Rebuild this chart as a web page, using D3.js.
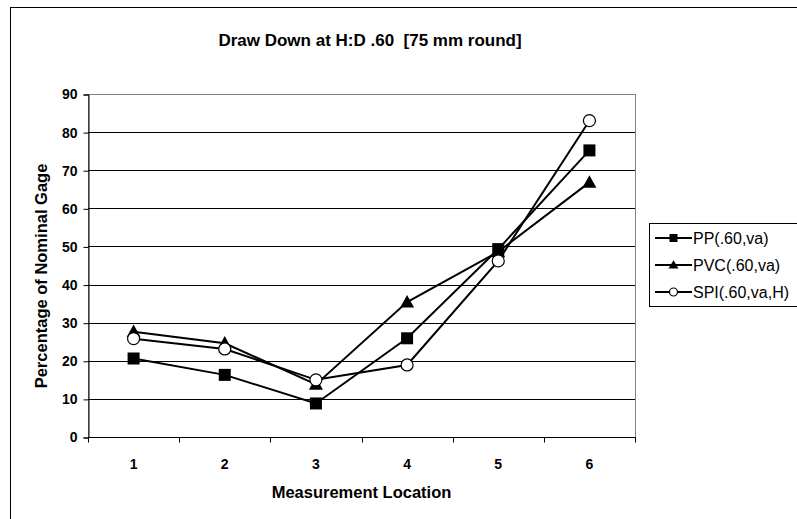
<!DOCTYPE html>
<html><head><meta charset="utf-8">
<script src="https://cdn.jsdelivr.net/npm/d3@7"></script>
<style>body{margin:0;background:#fff}svg{display:block}text{font-family:"Liberation Sans",Arial,sans-serif;white-space:pre}</style>
</head><body>
<svg id="c" width="797" height="519"></svg>
<script>
const categories = ["1","2","3","4","5","6"];
const ppValues  = [20.6, 16.3, 8.8, 25.9, 49.3, 75.2];
const pvcValues = [27.6, 24.6, 13.8, 35.4, 48.6, 66.8];
const spiValues = [25.8, 23.1, 15.0, 18.9, 46.2, 83.0];
const yTicks = [0,10,20,30,40,50,60,70,80,90];
const seriesNames = ["PP(.60,va)", "PVC(.60,va)", "SPI(.60,va,H)"];
const markerTypes = ["square", "triangle", "circle"];

const series = seriesNames.map((n,i)=>({name:n, marker:markerTypes[i], values:[ppValues,pvcValues,spiValues][i]}));

const svg = d3.select("#c");
const L = 88, R = 635, T = 94, B = 437;

svg.append("rect").attr("x",10.5).attr("y",7.5).attr("width",800).attr("height",520)
  .attr("fill","none").attr("stroke","#000").attr("stroke-width",1);

const x = d3.scaleBand().domain(categories).range([L,R]);
const y = d3.scaleLinear().domain([0,90]).range([B,T]);

svg.append("rect").attr("x",L+0.5).attr("y",T+0.5).attr("width",R-L).attr("height",B-T)
  .attr("fill","none").attr("stroke","#808080");

svg.append("g").selectAll("line").data(yTicks.filter(t=>t>0 && t<90)).join("line")
  .attr("x1",L).attr("x2",R).attr("y1",d=>Math.round(y(d))+0.5).attr("y2",d=>Math.round(y(d))+0.5)
  .attr("stroke","#000").attr("stroke-width",1);

const yAxis = d3.axisLeft(y).tickValues(yTicks).tickSize(5).tickPadding(4).tickFormat(d3.format("d"));
const gy = svg.append("g").attr("transform",`translate(${L+0.5},0.5)`).call(yAxis);
gy.attr("font-size",null).attr("font-family",null);
gy.select(".domain").attr("stroke","#000");
gy.selectAll(".tick line").attr("stroke","#000");
gy.selectAll("text").attr("font-size",14).attr("font-weight","bold").attr("fill","#000").attr("dx",-2);

const gx = svg.append("g").attr("transform",`translate(0,${B+0.5})`);
gx.append("line").attr("x1",L).attr("x2",R+1).attr("y1",0).attr("y2",0).attr("stroke","#000");
const bounds = categories.map(c=>x(c)).concat([R]);
gx.selectAll("line.tk").data(bounds).join("line").attr("class","tk")
  .attr("x1",d=>Math.round(d)+0.5).attr("x2",d=>Math.round(d)+0.5).attr("y1",0).attr("y2",5).attr("stroke","#000");
gx.selectAll("text").data(categories).join("text")
  .attr("x",d=>x(d)+x.bandwidth()/2).attr("y",31).attr("text-anchor","middle")
  .attr("font-size",14).attr("font-weight","bold").text(d=>d);

svg.append("text").attr("x",370).attr("y",46).attr("text-anchor","middle")
  .attr("font-size",17).attr("font-weight","bold").text("Draw Down at H:D .60  [75 mm round]");
svg.append("text").attr("x",(L+R)/2).attr("y",498).attr("text-anchor","middle")
  .attr("font-size",16.5).attr("font-weight","bold").text("Measurement Location");
svg.append("text").attr("transform",`translate(47,276) rotate(-90)`).attr("text-anchor","middle")
  .attr("font-size",16.5).attr("font-weight","bold").text("Percentage of Nominal Gage");

function drawMarker(g, type, cx, cy, s){
  if(type==="square"){
    g.append("rect").attr("x",cx-s/2).attr("y",cy-s/2).attr("width",s).attr("height",s).attr("fill","#000");
  } else if(type==="triangle"){
    g.append("path").attr("d",`M${cx},${cy-s*0.6}L${cx+s/2+1},${cy+s*0.45}L${cx-s/2-1},${cy+s*0.45}Z`).attr("fill","#000");
  } else {
    g.append("circle").attr("cx",cx).attr("cy",cy).attr("r",s/2).attr("fill","#fff").attr("stroke","#000").attr("stroke-width",1.2);
  }
}

const line = d3.line().x((d,i)=>x(categories[i])+x.bandwidth()/2).y(d=>y(d));
const plotG = svg.append("g");
series.forEach(s=>{
  plotG.append("path").attr("d",line(s.values)).attr("fill","none").attr("stroke","#000").attr("stroke-width",2);
});
series.forEach(s=>{
  s.values.forEach((v,i)=>drawMarker(plotG, s.marker, x(categories[i])+x.bandwidth()/2, y(v), 12));
});

const lg = svg.append("g");
lg.append("rect").attr("x",649.5).attr("y",223.5).attr("width",200).attr("height",83)
  .attr("fill","#fff").attr("stroke","#000");
series.forEach((s,i)=>{
  const cy = 238 + i*27;
  lg.append("line").attr("x1",655).attr("x2",692).attr("y1",cy).attr("y2",cy).attr("stroke","#000").attr("stroke-width",2);
  drawMarker(lg, s.marker, 673.5, cy, 8);
  lg.append("text").attr("x",693).attr("y",cy+6).attr("font-size",16).text(s.name);
});
</script>
</body></html>
